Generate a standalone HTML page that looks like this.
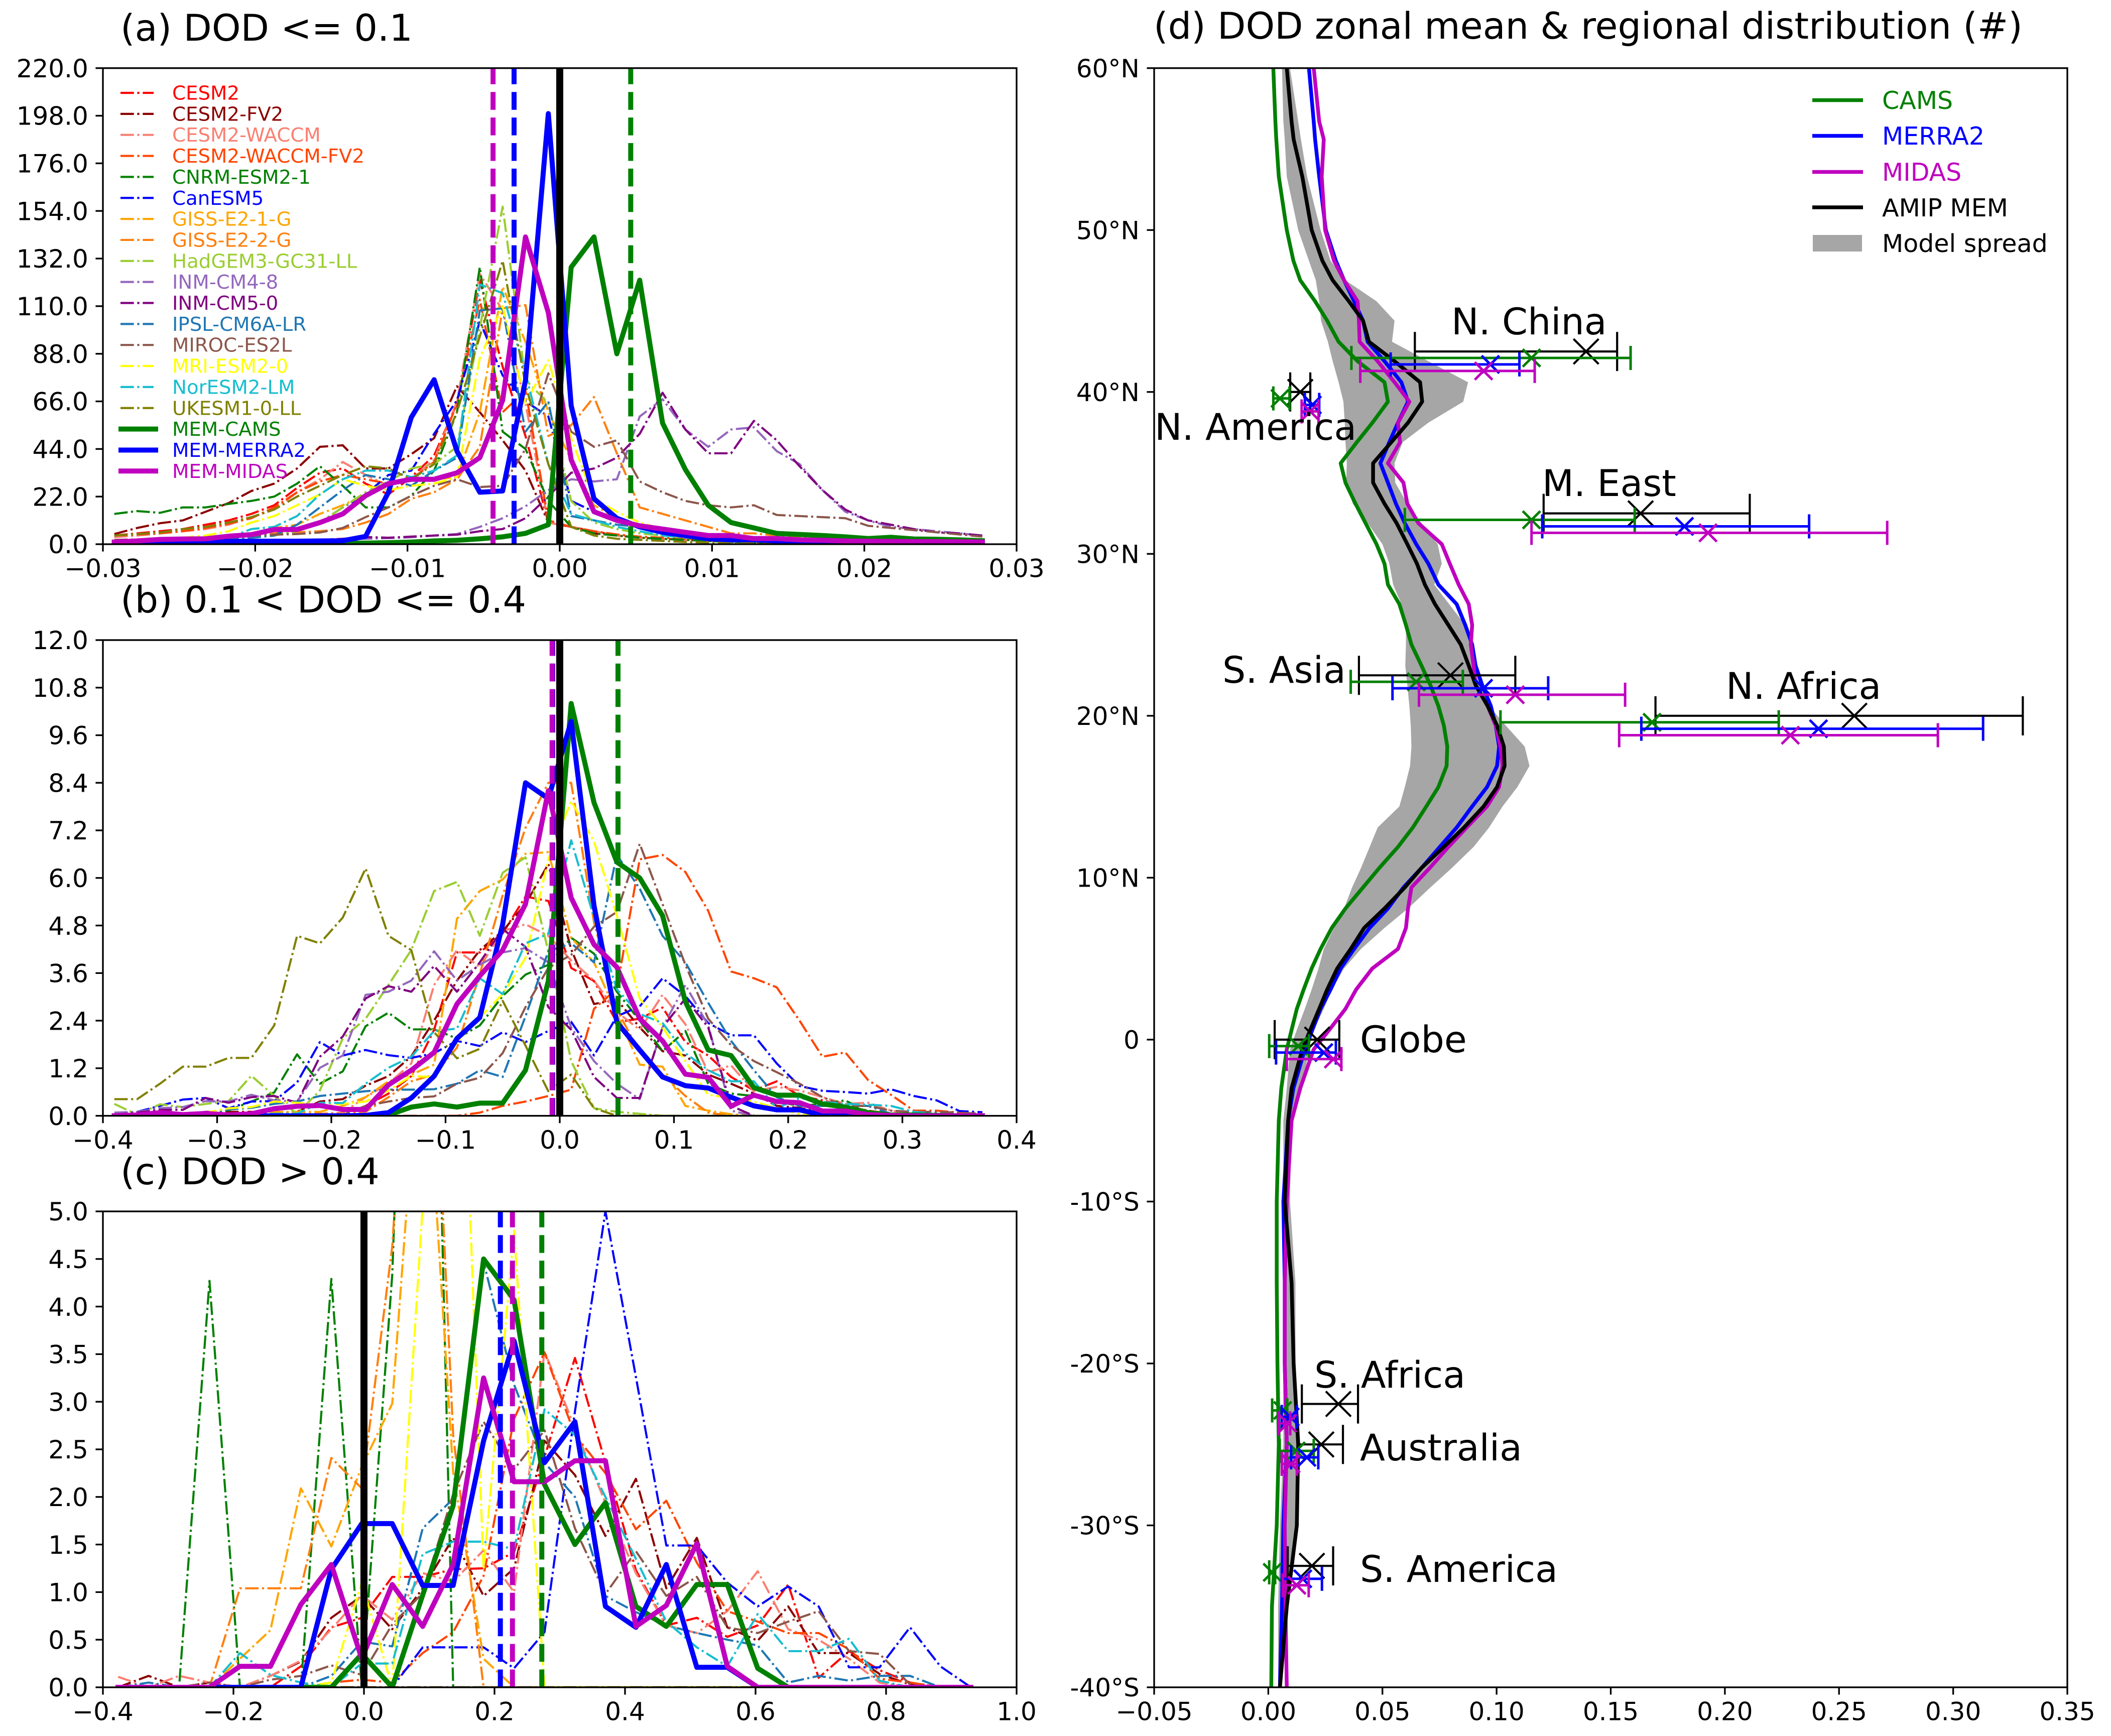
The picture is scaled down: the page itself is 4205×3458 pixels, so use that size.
<!DOCTYPE html>
<html lang="en">
<head>
<meta charset="utf-8">
<title>DOD distributions</title>
<style>
html,body{margin:0;padding:0;background:#fff;}
svg{display:block;}
text{font-family:"DejaVu Sans","Liberation Sans",sans-serif;}
.tick{font-size:50px;fill:#000;}
.title{font-size:73.3px;fill:#000;}
.region{font-size:73px;fill:#000;}
.lega{font-size:38.7px;}
.legd{font-size:49px;}
</style>
</head>
<body>
<svg id="chart" xmlns="http://www.w3.org/2000/svg" width="4205" height="3458" viewBox="0 0 4205 3458">
<rect x="0" y="0" width="4205" height="3458" fill="#fff"/>
<defs>
<clipPath id="clip-a"><rect x="205" y="135.7" width="1820" height="948.3"/></clipPath>
<clipPath id="clip-b"><rect x="205" y="1275" width="1820" height="947.6"/></clipPath>
<clipPath id="clip-c"><rect x="205" y="2413" width="1820" height="948"/></clipPath>
<clipPath id="clip-d"><rect x="2299" y="135.7" width="1819" height="3225.3"/></clipPath>
</defs>
<g id="panel-a"></g>
<g id="panel-b"></g>
<g id="panel-c"></g>
<g id="panel-d"></g>

<text class="title" x="240" y="81">(a) DOD &lt;= 0.1</text>
<text class="title" x="240" y="1220">(b) 0.1 &lt; DOD &lt;= 0.4</text>
<text class="title" x="240" y="2359">(c) DOD &gt; 0.4</text>
<text class="title" x="2298" y="77">(d) DOD zonal mean &amp; regional distribution (#)</text>

<g fill="none" stroke-width="4.2" stroke-dasharray="26.7 6.7 4.2 6.7">
<line x1="240" x2="306" y1="185" y2="185" stroke="#ff0000"/>
<line x1="240" x2="306" y1="226.85" y2="226.85" stroke="#8b0000"/>
<line x1="240" x2="306" y1="268.7" y2="268.7" stroke="#fa8072"/>
<line x1="240" x2="306" y1="310.55" y2="310.55" stroke="#ff4500"/>
<line x1="240" x2="306" y1="352.4" y2="352.4" stroke="#008000"/>
<line x1="240" x2="306" y1="394.25" y2="394.25" stroke="#0000ff"/>
<line x1="240" x2="306" y1="436.1" y2="436.1" stroke="#ffa500"/>
<line x1="240" x2="306" y1="477.95" y2="477.95" stroke="#ff7f0e"/>
<line x1="240" x2="306" y1="519.8" y2="519.8" stroke="#9acd32"/>
<line x1="240" x2="306" y1="561.65" y2="561.65" stroke="#9467bd"/>
<line x1="240" x2="306" y1="603.5" y2="603.5" stroke="#800080"/>
<line x1="240" x2="306" y1="645.35" y2="645.35" stroke="#1f77b4"/>
<line x1="240" x2="306" y1="687.2" y2="687.2" stroke="#8c564b"/>
<line x1="240" x2="306" y1="729.05" y2="729.05" stroke="#ffff00"/>
<line x1="240" x2="306" y1="770.9" y2="770.9" stroke="#17becf"/>
<line x1="240" x2="306" y1="812.75" y2="812.75" stroke="#808000"/>
</g>
<g fill="none" stroke-width="10" stroke-linecap="square">
<line x1="241" x2="310" y1="854.6" y2="854.6" stroke="#008000"/>
<line x1="241" x2="310" y1="896.45" y2="896.45" stroke="#0000ff"/>
<line x1="241" x2="310" y1="938.3" y2="938.3" stroke="#bf00bf"/>
</g>
<g class="lega">
<text class="lega" x="343" y="198.5" fill="#ff0000">CESM2</text>
<text class="lega" x="343" y="240.35" fill="#8b0000">CESM2-FV2</text>
<text class="lega" x="343" y="282.2" fill="#fa8072">CESM2-WACCM</text>
<text class="lega" x="343" y="324.05" fill="#ff4500">CESM2-WACCM-FV2</text>
<text class="lega" x="343" y="365.9" fill="#008000">CNRM-ESM2-1</text>
<text class="lega" x="343" y="407.75" fill="#0000ff">CanESM5</text>
<text class="lega" x="343" y="449.6" fill="#ffa500">GISS-E2-1-G</text>
<text class="lega" x="343" y="491.45" fill="#ff7f0e">GISS-E2-2-G</text>
<text class="lega" x="343" y="533.3" fill="#9acd32">HadGEM3-GC31-LL</text>
<text class="lega" x="343" y="575.15" fill="#9467bd">INM-CM4-8</text>
<text class="lega" x="343" y="617" fill="#800080">INM-CM5-0</text>
<text class="lega" x="343" y="658.85" fill="#1f77b4">IPSL-CM6A-LR</text>
<text class="lega" x="343" y="700.7" fill="#8c564b">MIROC-ES2L</text>
<text class="lega" x="343" y="742.55" fill="#ffff00">MRI-ESM2-0</text>
<text class="lega" x="343" y="784.4" fill="#17becf">NorESM2-LM</text>
<text class="lega" x="343" y="826.25" fill="#808000">UKESM1-0-LL</text>
<text class="lega" x="343" y="868.1" fill="#008000">MEM-CAMS</text>
<text class="lega" x="343" y="909.95" fill="#0000ff">MEM-MERRA2</text>
<text class="lega" x="343" y="951.8" fill="#bf00bf">MEM-MIDAS</text>
</g>

<g>
<line x1="3610" x2="3711" y1="199.5" y2="199.5" stroke="#008000" stroke-width="7.5"/>
<line x1="3610" x2="3711" y1="270.6" y2="270.6" stroke="#0000ff" stroke-width="7.5"/>
<line x1="3610" x2="3711" y1="342.5" y2="342.5" stroke="#bf00bf" stroke-width="7.5"/>
<line x1="3610" x2="3711" y1="413" y2="413" stroke="#000000" stroke-width="7.5"/>
<rect x="3611" y="468" width="98" height="33" fill="#a6a6a6"/>
<text class="legd" x="3749" y="217" fill="#008000">CAMS</text>
<text class="legd" x="3749" y="288" fill="#0000ff">MERRA2</text>
<text class="legd" x="3749" y="360" fill="#bf00bf">MIDAS</text>
<text class="legd" x="3749" y="431" fill="#000000">AMIP MEM</text>
<text class="legd" x="3749" y="502" fill="#000000">Model spread</text>
</g>

<g>
<text class="region" x="2891" y="666">N. China</text>
<text class="region" x="2300" y="876">N. America</text>
<text class="region" x="3072" y="988">M. East</text>
<text class="region" x="2435" y="1360">S. Asia</text>
<text class="region" x="3438" y="1392">N. Africa</text>
<text class="region" x="2709" y="2096">Globe</text>
<text class="region" x="2618" y="2764">S. Africa</text>
<text class="region" x="2709" y="2909">Australia</text>
<text class="region" x="2709" y="3151">S. America</text>
</g>
</svg>
<script>
// ---------- panel (a) values ----------
const binsA=[-0.02925,-0.02775,-0.02625,-0.02475,-0.02325,-0.02175,-0.02025,-0.01875,-0.01725,-0.01575,-0.01425,-0.01275,-0.01125,-0.00975,-0.00825,-0.00675,-0.00525,-0.00375,-0.00225,-0.00075,0.00075,0.00225,0.00375,0.00525,0.00675,0.00825,0.00975,0.01125,0.01275,0.01425,0.01575,0.01725,0.01875,0.02025,0.02175,0.02325,0.02475,0.02625,0.02775];
const a_CESM2=[4,5,6,7,9,11,14,18,26,33,35,28,23,31,41,65,122,82,50,10,8,6,4,3,2.5,2,1.5,1.2,1,.9,.8,.7,.6,.5,.5,.4,.4,.3,.3];
const a_FV2=[4.7,7.5,9.7,11,15,19,24.6,28,35,45,45.7,35,35,41.6,49,73,61,48,34,10,8,5,4,3,2.5,2,1.5,1.2,1,.9,.8,.7,.6,.5,.5,.4,.4,.3,.3];
const a_WACCM=[3.3,4,5,6,7,9,12.5,16,24,30,38,32,27,30,39,66,125,108,65,10,8,6,4,3,2.5,2,1.5,1.2,1,.9,.8,.7,.6,.5,.5,.4,.4,.3,.3];
const a_WFV2=[4,4.5,5,6,7.5,9.5,12,17,24,29,32,30,28,30,38,65,113,61,71,11,8,6,4.5,3.5,3,2.5,2,1.5,1.2,1,.8,.7,.6,.5,.5,.4,.4,.3,.3];
const a_CNRM=[14,15.3,14.5,17,17,18.6,20,22,28,36,27,17,17,22.4,34,61,128,52,44,20,8,5,4,3,2.5,2,1.5,1,.8,.7,.6,.5,.5,.4,.4,.3,.3,.2,.2];
const a_Can=[1,1,1.5,2,2.5,3,4,5,6,10,17,23,32,34,51,66.5,103,78,66,59,20,15,11,8,6,4,3,2,1.5,1.2,1,.8,.7,.6,.5,.4,.4,.3,.3];
const a_GISS1=[.5,.7,1,1.5,2,3,5,7.5,9,14,18,23,27,30,30,31,61,119,93.5,61,39,18,12,8,6,4,3,2,1.5,1.2,1,.8,.6,.5,.4,.4,.3,.3,.2];
const a_GISS2=[1,1.5,2,2.5,3.3,4,4.5,5,5.5,6,7,10,14,21,24,30,45,109,110.5,50,55,68,42,17,14,11,8,5,5,4,3,2.5,2,1.5,1.2,1,.8,.7,.6];
const a_Had=[.5,.7,1,1.2,1.5,2,3,4,6,10,17,24,29,35,37,45,100,156,76,65,20,10,7,5,4,3,2.5,2,1.5,1,.8,.6,.5,.4,.3,.3,.2,.2,.2];
const a_INM4=[.5,.5,.6,.7,.8,1,1.2,1.5,1.8,2,2.2,2.5,2.8,3.2,4,4.7,8,12,17.5,25,30,29,30,59,67,53,45,53,54,43,37,25,15,11,8,7,6,5,4];
const a_INM5=[.5,.5,.6,.7,.8,1,1.2,1.5,1.8,2,2.5,3.3,3,3.5,4,4.4,6,7,12,22,33,35,40,51,70,53,42,42,57,48,36,25,16,11,9,7,5.5,5,4];
const a_IPSL=[.5,.7,1,1.2,1.5,2,3,4,9,17,25,32,30,27,34,40,108,109,52,66,13,11,9,8,6,4,3,2.5,2,1.5,1.2,1,.8,.7,.6,.5,.4,.4,.3];
const a_MIROC=[2,2.2,2.5,2.8,3,3.3,4,4.4,4.7,5.4,7.5,12.5,17,22.4,27,30,26.4,27,44,79,52,45,48,29,24,20,18,17,18,13.5,13,12.5,12,8.5,7.5,6.5,5.5,4.5,3.5];
const a_MRI=[1.5,2,2.5,3,4,6,10,13,18,23,30,27,25,27,28,31,86,110,65,85,49,21,15,10,7,5,3,2.5,2,1.5,1.2,1,.8,.6,.5,.4,.3,.3,.2];
const a_Nor=[1,1.2,1.5,2,2.5,3,7,8,13,23,30,34,34,31,34,41,120,116,79,37,14,11,8,6,4,3,2.5,2,1.5,1.2,1,.8,.7,.6,.5,.4,.4,.3,.3];
const a_UK=[4,4.7,5.4,7,8,10,12.5,16,22,27,32,36,35,30,37,61,96,131,73.6,37,8,4,2.5,2,1.5,1,.8,.6,.5,.4,.4,.3,.3,.3,.2,.2,.2,.2,.2];
const a_CAMS=[.1,.1,.1,.1,.2,.2,.2,.3,.3,.4,.4,.5,.7,1,1.5,1.8,2.5,3.4,5,9,128,142,88,122,56,34.5,18,10,7.5,5,4.5,4,3.4,2.6,3.2,2.4,2.3,2,1.6];
const a_MERRA2=[.5,.7,1,1,1.2,1.3,1.4,1.4,1.4,1.5,1.6,3.6,24,58.6,76,43,24,24.6,75.7,199,64,21,12,8,5.5,4,2.5,2,2,1.5,1.2,1,.9,.8,.8,.7,.6,.6,.5];
const a_MIDAS=[1,1.5,2.2,2.4,2.5,3.7,4.4,6.8,6.8,10,14,22.4,28,30,30,33,40,66.5,142,107,39,15,11,8.5,7,5.5,4,4,2.6,2.6,2,1.8,1.5,1.4,1.3,1.2,1.2,1.1,1];
const a_meanBias=[0.00466,-0.0030,-0.00438];

// ---------- panel (b) values ----------
const binsB=[-0.39,-0.37,-0.35,-0.33,-0.31,-0.29,-0.27,-0.25,-0.23,-0.21,-0.19,-0.17,-0.15,-0.13,-0.11,-0.09,-0.07,-0.05,-0.03,-0.01,0.01,0.03,0.05,0.07,0.09,0.11,0.13,0.15,0.17,0.19,0.21,0.23,0.25,0.27,0.29,0.31,0.33,0.35,0.37];
const b_CESM2=[0,0,0,0,0,0,0,0,0,0,.02,.25,.56,1,2.17,4.12,4.12,4.6,5.53,5.42,3.73,3.4,2.36,2.45,2.73,1.86,1.52,.98,.64,.87,.5,.39,.25,.13,.05,0,0,0,0];
const b_FV2=[0,0,.05,.03,.1,.1,.1,.05,.1,.36,.42,.76,1,1.5,2.4,3.41,4.18,4.66,5.34,6.35,4.2,2.82,2.93,2.23,1.63,1.52,1.04,.81,.56,.25,.2,.1,.05,.02,0,0,0,0,0];
const b_WACCM=[0,0,0,0,0,.02,.02,.05,.08,.05,.08,.47,.81,1.32,3.3,4.18,3.75,4.66,4.83,4.54,3.92,3.41,2.62,2.17,3.05,2.31,1.1,1.27,.62,.73,.64,.47,.3,.33,.13,.05,.03,.02,.01];
const b_WFV2=[0,0,0,0,0,0,0,0,0,0,0,0,0,0,0,0,.08,.25,.36,.5,.66,2.7,3.2,6.47,6.58,6.15,5.17,3.64,3.47,3.24,2.4,1.49,1.6,.9,.53,.13,.13,.08,.04];
const b_CNRM=[.03,.02,.02,.03,.08,.14,.36,.59,1.55,.81,1.12,2.26,2.6,2.18,2.18,1.95,2.28,3.02,3.56,3.81,4.49,4.09,3.13,2.4,1.63,2.14,.81,.56,.5,.36,.25,.3,.39,.08,0,0,0,0,0];
const b_Can=[.03,.1,.25,.41,.45,.19,.36,.37,.84,1.86,1.52,1.66,1.53,1.46,1.58,1.89,1.76,2.11,1.86,2.14,2.37,1.52,2.51,2.76,3.47,3.02,2.34,2.03,2.03,1.32,.75,.63,.6,.56,.67,.5,.39,.12,.09];
const b_GISS1=[0,0,0,.03,.02,.02,.05,.1,.1,.1,.25,.47,.87,1.04,1.29,4.97,5.67,5.96,6.61,6.65,4.49,3.87,2.57,1.29,1.24,.25,.13,.04,0,0,0,0,0,0,0,0,0,0,0];
const b_GISS2=[0,0,0,0,0,0,.02,.03,.03,.05,.05,.1,.47,.87,1.04,1.72,3.58,5.56,7.26,8.4,8.4,4.88,2.68,1.6,1.04,.5,.08,0,0,0,0,0,0,0,0,0,0,0,0];
const b_Had=[.3,.03,.29,.22,.3,.37,1.01,.5,.05,.64,1.95,2.45,3.3,4.18,5.67,5.9,4.54,6.13,6.52,4.15,1.38,.19,.1,.05,0,0,0,0,0,0,0,0,0,0,0,0,0,0,0];
const b_INM4=[.08,.1,.19,.22,.37,.36,.53,.39,.36,1.21,1.52,3.05,3.13,3.41,4.15,3.41,3.81,4.12,4.23,3.87,2.23,1.38,.81,.42,2.23,3.3,2.28,.13,0,0,0,0,0,0,0,0,0,0,0];
const b_INM5=[.03,.08,.15,.15,.45,.33,.47,.5,.33,1.49,2,2.96,3.27,3.13,3.78,3.13,3.87,4.71,4.26,2.74,2.17,.98,.45,.45,2.23,2.96,2.23,.25,0,0,0,0,0,0,0,0,0,0,0];
const b_IPSL=[0,0,0,0,.08,.16,.2,.3,.36,.5,.56,.62,.66,.66,.67,.81,1.15,.98,2.51,4.15,4.35,3.87,6.58,5.73,4.54,3.87,2.85,1.89,1.15,.47,.25,.25,.25,.25,.05,0,0,0,0];
const b_MIROC=[0,0,0,0,0,0,0,.02,.02,.02,.02,.25,.36,.45,.49,.81,.96,1.58,2.74,3.73,4.06,4.77,5.14,6.86,5.34,3.81,2.45,1.78,1.38,1.1,.81,.47,.25,.25,.13,.1,.1,.08,.05];
const b_MRI=[0,0,0,.03,.08,.19,.22,.36,.33,.28,.3,.36,.64,1,.98,1.86,2.48,3.07,3.98,6.47,7.94,6.92,5.05,2.96,2.23,1.38,.53,.45,.36,.19,.05,0,0,0,0,0,0,0,0];
const b_Nor=[0,0,0,0,.02,.02,.05,.05,.05,.33,.32,.81,1.21,1.49,2.14,2.2,3.47,3.07,4.35,4.59,6.95,5,3.19,2.57,2.34,1.58,1.15,.87,.87,.19,.45,.35,.3,.28,.25,.1,.05,.03,.02];
const b_UK=[.42,.42,.81,1.24,1.24,1.46,1.46,2.28,4.54,4.35,5,6.24,4.54,4.18,2.11,1.45,1.69,2.9,1.77,.62,1.04,.19,0,0,0,0,0,0,0,0,0,0,0,0,0,0,0,0,0];
const b_CAMS=[0,0,0,0,0,0,0,0,0,0,0,0,.02,.22,.3,.22,.32,.32,1.15,3.4,10.4,7.9,6.4,6,5.05,2.88,1.66,1.52,.71,.52,.52,.3,.22,.08,.02,.02,.01,0,0];
const b_MERRA2=[0,0,0,0,0,0,0,0,0,0,0,.01,.08,.45,1,1.95,2.48,4.83,8.4,8,9.95,5.3,2.36,1.66,.98,.76,.7,.47,.25,.15,.15,.02,0,0,0,0,0,0,0];
const b_MIDAS=[0,.02,.08,.03,.06,.02,.05,.18,.24,.26,.16,.16,.78,1.15,1.6,2.82,3.53,4.18,5.34,8.2,5.5,4.32,3.75,2.45,1.89,1.05,.97,.24,.52,.36,.33,.12,.12,.03,.01,0,0,0,0];
const b_meanBias=[0.051,-0.0062,-0.0067];

// ---------- panel (c) values ----------
const binsC=[-0.3767,-0.33,-0.2833,-0.2367,-0.19,-0.1433,-0.0967,-0.05,-0.0033,0.0433,0.09,0.1367,0.1833,0.23,0.2767,0.3233,0.37,0.4167,0.4633,0.51,0.5567,0.6033,0.65,0.6967,0.7433,0.79,0.8367,0.8833,0.93];
const c_CESM2=[0,0,0,0,0,0,.22,.63,.73,1.16,1.16,1.24,1.25,1.42,2.42,3.46,2.36,1.23,.65,.73,.53,.65,1.08,.1,.38,.18,.05,0,0];
const c_FV2=[0,.12,0,.05,0,.12,.27,.73,.96,.61,1.04,1.57,.96,1.25,2.59,2.23,1.59,2.19,1.04,1.57,.63,.49,.85,.36,.36,.14,.03,0,0];
const c_WACCM=[.11,0,.12,.05,0,.12,.28,.61,.97,.71,1.2,1.11,1.44,1,3.53,2.72,1.94,1.2,.65,.57,.8,1.22,.61,.5,.3,.05,0,0,0];
const c_WFV2=[0,0,0,0,0,0,0,.05,.08,.05,.36,.58,1.17,2.82,3.52,2.65,2.25,1.66,1.96,1.31,.8,.69,.57,.57,.4,.09,.05,0,0];
const c_CNRM=[0,0,0,4.27,0,0,0,4.29,0,4.33,13.3,0,0,0,0,0,0,0,0,0,0,0,0,0,0,0,0,0,0];
const c_Can=[0,0,0,0,0,0,0,0,0,0,.42,.42,.42,.2,.58,2.9,5,3.26,1.49,1.49,1.1,.85,1.06,.85,.21,.21,.63,.22,0];
const c_GISS1=[0,0,0,0,.3,.6,2.09,1.48,2.32,2.98,7.3,2.26,.3,0,0,0,0,0,0,0,0,0,0,0,0,0,0,0,0];
const c_GISS2=[0,0,0,0,1.04,1.04,1.04,2.41,2.09,4.63,9.6,2.65,0,0,0,0,0,0,0,0,0,0,0,0,0,0,0,0,0];
const c_Had=[0,0,0,0,0,0,0,0,0,0,0,0,0,0,0,0,0,0,0,0,0,0,0,0,0,0,0,0,0];
const c_INM4=[0,0,0,0,0,0,0,0,0,0,0,0,0,0,0,0,0,0,0,0,0,0,0,0,0,0,0,0,0];
const c_INM5=[0,0,0,0,0,0,0,0,0,0,0,0,0,0,0,0,0,0,0,0,0,0,0,0,0,0,0,0,0];
const c_IPSL=[0,.05,0,0,0,0,0,.12,.48,.43,1.67,1.98,4.47,3.18,2.36,2,.96,.79,.65,.57,.5,.44,.05,.12,.07,.12,.12,0,0];
const c_MIROC=[0,0,0,.05,0,.08,.12,.23,.13,.66,.99,2.03,2.79,2.29,2.7,1.67,.98,1.43,.96,1.16,.63,.57,.69,.8,.38,.35,.03,0,0];
const c_MRI=[0,0,0,0,0,0,0,.05,1.1,0,5.06,9.66,1.24,4.8,0,0,0,0,0,0,0,0,0,0,0,0,0,0,0];
const c_Nor=[0,0,0,0,.36,.13,.05,0,.25,.25,1.4,1.53,1.53,1.45,2.92,2.65,2,1.35,.69,.42,.22,.77,.38,.38,.51,.07,0,0,0];
const c_UK=[0,0,0,0,0,0,0,0,0,0,0,0,0,0,0,0,0,0,0,0,0,0,0,0,0,0,0,0,0];
const c_CAMS=[0,0,0,0,0,0,0,0,.35,0,.97,1.91,4.5,4.07,2.13,1.5,1.94,.85,.64,1.08,1.08,.2,0,0,0,0,0,0,0];
const c_MERRA2=[0,0,0,0,0,0,0,1.24,1.72,1.72,1.07,1.07,2.59,3.64,2.36,2.79,.85,.63,1.29,.21,.21,0,0,0,0,0,0,0,0];
const c_MIDAS=[0,0,0,0,.22,.22,.87,1.29,.3,1.08,.64,1.29,3.25,2.16,2.16,2.38,2.38,.64,.86,1.51,.22,0,0,0,0,0,0,0,0];
const c_meanBias=[0.2725,0.209,0.2275];

// ---------- panel (d) values ----------
const latGrid=[60,56.7,55.6,53.3,50,48.1,46.9,45.6,44.4,43.1,41.9,40.6,39.4,38.1,36.9,35.6,34.4,33.1,31.9,30.6,29.4,28.1,26.9,25.6,24.4,23.1,21.9,20.6,19.4,18.1,16.9,15.6,14.4,13.1,11.9,10.6,9.4,8.1,6.9,5.6,4.4,3.1,1.9,.6,-.6,-3,-5,-10,-15,-20,-25,-30,-35,-40];
const zonalCAMS=[.0022,.0031,.0035,.0046,.0081,.011,.014,.0205,.0258,.0308,.0391,.0509,.0524,.0456,.0388,.0317,.0338,.0382,.0426,.0474,.0509,.0524,.0574,.0603,.0627,.0671,.071,.0745,.0769,.0784,.0781,.0745,.0692,.0633,.0568,.0486,.0415,.0338,.0278,.0229,.019,.0155,.0125,.0102,.0081,.0057,.0046,.0037,.0037,.004,.0046,.0037,.0016,.0013];
const zonalMERRA2=[.0178,.0199,.0205,.0223,.0252,.0296,.0332,.0376,.0415,.0435,.0509,.0583,.0612,.0568,.053,.0491,.0524,.0559,.0598,.0648,.0701,.0745,.0825,.0863,.0893,.0908,.0937,.0975,.0996,.1011,.1002,.0958,.0893,.0825,.0751,.0671,.0592,.0524,.0444,.0376,.0317,.0273,.0229,.0193,.016,.011,.0087,.0066,.0072,.0072,.0081,.0066,.006,.0051];
const zonalMIDAS=[.0199,.0223,.0243,.0234,.0249,.0288,.0332,.0391,.0397,.04,.0479,.0553,.0618,.0568,.0577,.0524,.0592,.0609,.0657,.076,.0795,.0834,.0878,.0893,.0887,.0899,.0908,.0961,.0996,.1017,.1026,.1011,.0958,.0869,.0789,.0707,.0627,.0612,.0603,.0568,.0456,.0385,.0338,.0267,.0199,.014,.0102,.0081,.0072,.0072,.0081,.0072,.0075,.0081];
const zonalAMIP=[.0081,.0102,.0111,.0149,.019,.0237,.0282,.0353,.0415,.0441,.0553,.0665,.0674,.0612,.0539,.0459,.0459,.0509,.0562,.0609,.0651,.0686,.073,.0789,.0843,.0878,.0908,.0961,.1002,.1032,.1035,.1002,.0943,.0857,.0769,.0671,.0598,.0509,.042,.0361,.0302,.0258,.0223,.0184,.0149,.0102,.0087,.0072,.0102,.0111,.0131,.0125,.0081,.0051];
const spreadHigh=[.0095,.0131,.0143,.017,.0229,.0273,.0338,.0474,.0553,.0542,.0701,.0875,.0854,.0701,.0589,.0553,.0556,.0609,.0671,.0742,.076,.0727,.0792,.0863,.0893,.0916,.0943,.0967,.104,.1123,.1144,.1091,.1026,.0967,.0899,.0804,.071,.0612,.0509,.0406,.0332,.0279,.0243,.0199,.0178,.0149,.0102,.0095,.0119,.0119,.014,.0119,.0081,.0043];
const spreadLow=[.006,.0066,.0072,.0081,.0131,.0178,.0208,.0223,.0231,.0261,.0282,.0308,.0329,.0335,.0338,.0344,.0341,.037,.0435,.05,.053,.0547,.0583,.0603,.0603,.06,.0609,.0618,.0624,.0627,.0621,.0598,.0574,.0479,.0444,.0406,.0367,.0332,.0288,.0243,.022,.019,.016,.0125,.0095,.0081,.0066,.0066,.0066,.0066,.0066,.0051,.0043,.0043];

const amipLat=[42.5,40,32.5,22.5,20,0,-22.5,-25,-32.5];
const amipMean=[.1392,.014,.1631,.0798,.2567,.0214,.0307,.0232,.0191];
const amipMin=[.0642,.0096,.1206,.0397,.1696,.0028,.0147,.0129,.0085];
const amipMax=[.1528,.0184,.2109,.1082,.3305,.0311,.0393,.0327,.0284];
const camsLat=[42.1,39.6,32.1,22.1,19.6,-.4,-22.9,-25.4,-32.9];
const camsMean=[.1153,.0051,.1153,.0648,.1681,.0131,.0063,.0122,.0017];
const camsMin=[.0364,.0022,.0598,.0361,.1017,.0004,.0017,.005,.0004];
const camsMax=[.1587,.0093,.1605,.0852,.2236,.0178,.0083,.0199,.003];
const merraLat=[41.7,39.2,31.7,21.7,19.2,-.8,-23.3,-25.8,-33.3];
const merraMean=[.0973,.0193,.1823,.0943,.241,.0243,.0096,.0169,.0151];
const merraMin=[.0536,.016,.12,.0544,.1634,.0034,.0059,.01,.0059];
const merraMax=[.11,.0223,.2369,.1226,.3131,.0296,.0125,.0219,.0235];
const midasLat=[41.3,38.8,31.3,21.3,18.8,-1.2,-23.7,-26.2,-33.7];
const midasMean=[.0943,.0184,.1926,.1082,.2287,.0285,.0085,.01,.0125];
const midasMin=[.0403,.0146,.1153,.066,.1537,.0081,.0045,.0059,.0063];
const midasMax=[.1167,.022,.2711,.1563,.2933,.032,.0096,.0125,.0177];
const regionSlugs=['n-china','n-america','m-east','s-asia','n-africa','globe','s-africa','australia','s-america'];

// ---------- tick labels ----------
const xTicksA=[-0.03,-0.02,-0.01,0,0.01,0.02,0.03];
const xLabelsA=['\u22120.03','\u22120.02','\u22120.01','0.00','0.01','0.02','0.03'];
const yTicksA=[0,22,44,66,88,110,132,154,176,198,220];
const yLabelsA=['0.0','22.0','44.0','66.0','88.0','110.0','132.0','154.0','176.0','198.0','220.0'];
const xTicksB=[-0.4,-0.3,-0.2,-0.1,0,0.1,0.2,0.3,0.4];
const xLabelsB=['\u22120.4','\u22120.3','\u22120.2','\u22120.1','0.0','0.1','0.2','0.3','0.4'];
const yTicksB=[0,1.2,2.4,3.6,4.8,6,7.2,8.4,9.6,10.8,12];
const yLabelsB=['0.0','1.2','2.4','3.6','4.8','6.0','7.2','8.4','9.6','10.8','12.0'];
const xTicksC=[-0.4,-0.2,0,0.2,0.4,0.6,0.8,1];
const xLabelsC=['\u22120.4','\u22120.2','0.0','0.2','0.4','0.6','0.8','1.0'];
const yTicksC=[0,0.5,1,1.5,2,2.5,3,3.5,4,4.5,5];
const yLabelsC=['0.0','0.5','1.0','1.5','2.0','2.5','3.0','3.5','4.0','4.5','5.0'];
const xTicksD=[-0.05,0,0.05,0.1,0.15,0.2,0.25,0.3,0.35];
const xLabelsD=['\u22120.05','0.00','0.05','0.10','0.15','0.20','0.25','0.30','0.35'];
const yTicksD=[60,50,40,30,20,10,0,-10,-20,-30,-40];
const yLabelsD=['60\u00b0N','50\u00b0N','40\u00b0N','30\u00b0N','20\u00b0N','10\u00b0N','0','-10\u00b0S','-20\u00b0S','-30\u00b0S','-40\u00b0S'];

// ---------- series lists ----------
const modelSlugs=['cesm2','cesm2-fv2','cesm2-waccm','cesm2-waccm-fv2','cnrm-esm2-1','canesm5','giss-e2-1-g','giss-e2-2-g','hadgem3','inm-cm4-8','inm-cm5-0','ipsl-cm6a-lr','miroc-es2l','mri-esm2-0','noresm2-lm','ukesm1-0-ll'];
const modelColors=['#ff0000','#8b0000','#fa8072','#ff4500','#008000','#0000ff','#ffa500','#ff7f0e','#9acd32','#9467bd','#800080','#1f77b4','#8c564b','#ffff00','#17becf','#808000'];
const modelsA=[a_CESM2,a_FV2,a_WACCM,a_WFV2,a_CNRM,a_Can,a_GISS1,a_GISS2,a_Had,a_INM4,a_INM5,a_IPSL,a_MIROC,a_MRI,a_Nor,a_UK];
const modelsB=[b_CESM2,b_FV2,b_WACCM,b_WFV2,b_CNRM,b_Can,b_GISS1,b_GISS2,b_Had,b_INM4,b_INM5,b_IPSL,b_MIROC,b_MRI,b_Nor,b_UK];
const modelsC=[c_CESM2,c_FV2,c_WACCM,c_WFV2,c_CNRM,c_Can,c_GISS1,c_GISS2,c_Had,c_INM4,c_INM5,c_IPSL,c_MIROC,c_MRI,c_Nor,c_UK];
const memSlugs=['mem-cams','mem-merra2','mem-midas'];
const memColors=['#008000','#0000ff','#bf00bf'];

const NS='http://www.w3.org/2000/svg';
function mk(tag,attrs,parent){
  const el=document.createElementNS(NS,tag);
  for(const k in attrs){el.setAttribute(k,attrs[k]);}
  parent.appendChild(el);
  return el;
}
function linearScale(d0,d1,r0,r1){
  return function(v){return r0+(v-d0)/(d1-d0)*(r1-r0);};
}
function pathFrom(xs,ys,fx,fy){
  let d='';
  for(let i=0;i<xs.length;i++){d+=(i?'L':'M')+fx(xs[i]).toFixed(2)+' '+fy(ys[i]).toFixed(2);}
  return d;
}
const TICK=14.6,SPINE=3.33;
function drawFrame(parent,box,fx,fy,xt,xl,yt,yl,id){
  const frame=mk('rect',{x:box.l,y:box.t,width:box.r-box.l,height:box.b-box.t,fill:'none',stroke:'#000','stroke-width':SPINE},parent);
  
  
  xt.forEach(function(v,i){
    const tk=mk('line',{x1:fx(v),x2:fx(v),y1:box.b,y2:box.b+TICK,stroke:'#000','stroke-width':SPINE},parent);
    
    
    const lb=mk('text',{x:fx(v),y:box.b+65.6,'text-anchor':'middle','class':'tick'},parent);
    lb.textContent=xl[i];
    
    
  });
  yt.forEach(function(v,i){
    const tk=mk('line',{x1:box.l-TICK,x2:box.l,y1:fy(v),y2:fy(v),stroke:'#000','stroke-width':SPINE},parent);
    
    
    const lb=mk('text',{x:box.l-29.2,y:fy(v)+18.2,'text-anchor':'end','class':'tick'},parent);
    lb.textContent=yl[i];
    
    
  });
}
function drawHistPanel(id,box,xDom,yDom,bins,models,mems,bias,xt,xl,yt,yl){
  const parent=document.getElementById('panel-'+id);
  const fx=linearScale(xDom[0],xDom[1],box.l,box.r);
  const fy=linearScale(yDom[0],yDom[1],box.b,box.t);
  const clipped=mk('g',{'clip-path':'url(#clip-'+id+')'},parent);
  
  
  models.forEach(function(vals,i){
    const p=mk('path',{d:pathFrom(bins,vals,fx,fy),fill:'none',stroke:modelColors[i],'stroke-width':4.2,'stroke-dasharray':'26.7 6.7 4.2 6.7','stroke-linejoin':'round'},clipped);
    
    
  });
  mems.forEach(function(vals,i){
    const p=mk('path',{d:pathFrom(bins,vals,fx,fy),fill:'none',stroke:memColors[i],'stroke-width':10,'stroke-linejoin':'round','stroke-linecap':'square'},clipped);
    
    
  });
  bias.forEach(function(v,i){
    const l=mk('line',{x1:fx(v),x2:fx(v),y1:box.b,y2:box.t,stroke:memColors[i],'stroke-width':10,'stroke-dasharray':'35.5 15.4'},clipped);
    
    
  });
  const zero=mk('line',{x1:fx(0),x2:fx(0),y1:box.b,y2:box.t,stroke:'#000','stroke-width':14},clipped);
  
  
  drawFrame(parent,box,fx,fy,xt,xl,yt,yl,'panel-'+id);
}
drawHistPanel('a',{l:205,r:2025,t:135.7,b:1084},[-0.03,0.03],[0,220],binsA,modelsA,[a_CAMS,a_MERRA2,a_MIDAS],a_meanBias,xTicksA,xLabelsA,yTicksA,yLabelsA);
drawHistPanel('b',{l:205,r:2025,t:1275,b:2222.6},[-0.4,0.4],[0,12],binsB,modelsB,[b_CAMS,b_MERRA2,b_MIDAS],b_meanBias,xTicksB,xLabelsB,yTicksB,yLabelsB);
drawHistPanel('c',{l:205,r:2025,t:2413,b:3361},[-0.4,1],[0,5],binsC,modelsC,[c_CAMS,c_MERRA2,c_MIDAS],c_meanBias,xTicksC,xLabelsC,yTicksC,yLabelsC);

(function(){
  const box={l:2299,r:4118,t:135.7,b:3361};
  const parent=document.getElementById('panel-d');
  const fx=linearScale(-0.05,0.35,box.l,box.r);
  const fy=linearScale(60,-40,box.t,box.b);
  const clipped=mk('g',{'clip-path':'url(#clip-d)'},parent);
  
  
  let d='';
  latGrid.forEach(function(lat,i){d+=(i?'L':'M')+fx(spreadHigh[i]).toFixed(2)+' '+fy(lat).toFixed(2);});
  for(let i=latGrid.length-1;i>=0;i--){d+='L'+fx(spreadLow[i]).toFixed(2)+' '+fy(latGrid[i]).toFixed(2);}
  const band=mk('path',{d:d+'Z',fill:'#a6a6a6',stroke:'none'},clipped);
  
  
  const curves=[zonalCAMS,zonalMERRA2,zonalMIDAS,zonalAMIP];
  const curveColors=['#008000','#0000ff','#bf00bf','#000000'];
  const curveSlugs=['cams','merra2','midas','amip-mem'];
  curves.forEach(function(vals,i){
    const p=mk('path',{d:pathFrom(vals,latGrid,fx,fy),fill:'none',stroke:curveColors[i],'stroke-width':7.5,'stroke-linejoin':'round'},clipped);
    
    
  });
  const sets=[
    {lat:amipLat,mean:amipMean,min:amipMin,max:amipMax,color:'#000000',cap:39,mark:25,sw:4.2,slug:'amip-mem'},
    {lat:camsLat,mean:camsMean,min:camsMin,max:camsMax,color:'#008000',cap:24,mark:17.5,sw:5,slug:'cams'},
    {lat:merraLat,mean:merraMean,min:merraMin,max:merraMax,color:'#0000ff',cap:24,mark:17.5,sw:5,slug:'merra2'},
    {lat:midasLat,mean:midasMean,min:midasMin,max:midasMax,color:'#bf00bf',cap:24,mark:17.5,sw:5,slug:'midas'}
  ];
  sets.forEach(function(s){
    s.lat.forEach(function(lat,i){
      const y=fy(lat),x0=fx(s.min[i]),x1=fx(s.max[i]),xm=fx(s.mean[i]);
      const g=mk('g',{fill:'none',stroke:s.color,'stroke-width':s.sw},clipped);
      
      
      mk('path',{d:'M'+x0+' '+y+'L'+x1+' '+y+'M'+x0+' '+(y-s.cap)+'L'+x0+' '+(y+s.cap)+'M'+x1+' '+(y-s.cap)+'L'+x1+' '+(y+s.cap)},g);
      mk('path',{d:'M'+(xm-s.mark)+' '+(y-s.mark)+'L'+(xm+s.mark)+' '+(y+s.mark)+'M'+(xm-s.mark)+' '+(y+s.mark)+'L'+(xm+s.mark)+' '+(y-s.mark)},g);
    });
  });
  drawFrame(parent,box,fx,fy,xTicksD,xLabelsD,yTicksD,yLabelsD,'panel-d');
})();
</script>
</body>
</html>
